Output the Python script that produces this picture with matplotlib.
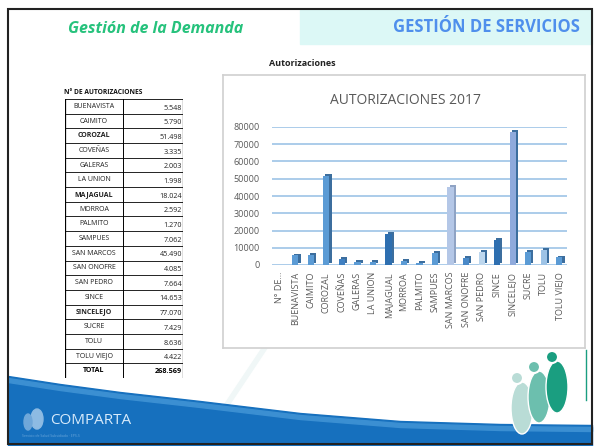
import numpy as np
import matplotlib
matplotlib.use("Agg")
import matplotlib.pyplot as plt
import matplotlib.transforms as mtransforms
from matplotlib.patches import Rectangle, Circle, Ellipse

# Data
municipios = ["BUENAVISTA", "CAIMITO", "COROZAL", "COVEÑAS", "GALERAS", "LA UNION",
              "MAJAGUAL", "MORROA", "PALMITO", "SAMPUES", "SAN MARCOS", "SAN ONOFRE",
              "SAN PEDRO", "SINCE", "SINCELEJO", "SUCRE", "TOLU", "TOLU VIEJO"]
autorizaciones = [5548, 5790, 51498, 3335, 2003, 1998, 18024, 2592, 1270, 7062,
                  45490, 4085, 7664, 14653, 77070, 7429, 8636, 4422]
tabla_valores = ["5.548", "5.790", "51.498", "3.335", "2.003", "1.998", "18.024", "2.592",
                 "1.270", "7.062", "45.490", "4.085", "7.664", "14.653", "77.070", "7.429",
                 "8.636", "4.422"]
tabla_nombres = ["BUENAVISTA", "CAIMITO", "COROZAL", "COVEÑAS", "GALERAS", "LA UNION",
                 "MAJAGUAL", "MORROA", "PALMITO", "SAMPUES", "SAN MARCOS", "SAN ONOFRE",
                 "SAN PEDRO", "SINCE", "SINCELEJO", "SUCRE", "TOLU", "TOLU VIEJO"]
total_label = "268.569"
negrita = {"COROZAL", "MAJAGUAL", "SINCELEJO"}

# chart categories (first one is the header row of the source table)
categorias = ["N° DE..."] + municipios
valores = [0] + autorizaciones
y_ticks = [0, 10000, 20000, 30000, 40000, 50000, 60000, 70000, 80000]

med, dark, light = "#5b9bd5", "#2e6fb0", "#b4c7e7"
colores = ["#5b9bd5", med, med, med, "#3f80c2", med, med, dark, med, med, med,
           light, "#4a89c8", "#bdd7ee", dark, "#8faadc", med, "#9dc3e6", med]

W, H = 596, 446
plt.rcParams['font.family'] = ['Open Sans', 'DejaVu Sans']


def rect(x0, y0, x1, y1):
    return [x0 / W, 1 - y1 / H, (x1 - x0) / W, (y1 - y0) / H]


fig = plt.figure(figsize=(W / 100, H / 100), dpi=100)
fig.patch.set_facecolor("white")

# background / slide decoration in pixel coordinates
bg = fig.add_axes([0, 0, 1, 1])
bg.set_xlim(0, W)
bg.set_ylim(H, 0)
bg.axis("off")

bg.plot([200, 330], [445, 250], color="#f0f7f7", lw=4, zorder=0)

# bottom blue wave
wx = np.array([8, 60, 120, 200, 300, 400, 500, 592])
wy = np.array([376, 384, 392, 401, 413, 421, 424, 425])
bg.fill_between(wx, wy, 446, color="#1670be", zorder=1)
bg.fill_between(wx, wy + 2, wy + 6, color="#3b8fd2", zorder=1)

# people icon (right)
for cx, cy, c in [(517, 378, "#b9dcd6"), (534, 367, "#6cbfae"), (552, 357, "#1a9e80")]:
    bg.add_patch(Ellipse((cx + 5, cy + 30), 22, 52, facecolor=c, edgecolor="white",
                         lw=1, zorder=2))
    bg.add_patch(Circle((cx, cy), 6, facecolor=c, edgecolor="white", lw=1.5, zorder=3))
bg.plot([586, 586], [350, 400], color="#1a9e80", lw=1, zorder=2)

# logo
bg.text(50, 421, "COMPARTA", color="#d6eafb", fontsize=11, ha="left", va="center", zorder=4)
bg.add_patch(Ellipse((37, 419), 12, 20, color="#8dbbe3", zorder=4))
bg.add_patch(Ellipse((28, 422), 8, 16, color="#6fa7d9", zorder=4))
bg.text(22, 436, "Servicio de Salud Subsidiado · EPS-S", color="#6aa6da", fontsize=2.5,
        va="center", ha="left", zorder=4)

# header
bg.add_patch(Rectangle((300, 10), 292, 34, color="#dcf8f6", zorder=1))
bg.text(156, 29, "Gestión de la Demanda", color="#26c27c", fontsize=11.5,
        fontweight="bold", fontstyle="italic", ha="center", va="center", zorder=4)
bg.text(486, 27, "GESTIÓN DE SERVICIOS", color="#4f8fec", fontsize=12,
        fontweight="bold", ha="center", va="center", zorder=4)
bg.text(302, 64, "Autorizaciones", color="#222222", fontsize=6.5, fontweight="bold",
        ha="center", va="center", zorder=4)

# slide frame
bg.add_patch(Rectangle((8, 9), 584, 435, fill=False, edgecolor="#222222", lw=1.5, zorder=5))

# table
tb = fig.add_axes(rect(65, 99, 183, 378))
n = len(tabla_nombres) + 1
tb.set_xlim(0, 118)
tb.set_ylim(n, 0)
tb.axis("off")
tb.add_patch(Rectangle((0, 0), 118, n, facecolor="white", edgecolor="none", zorder=0))
for i in range(n + 1):
    tb.plot([0, 118], [i, i], color="black", lw=0.6)
tb.plot([0, 0], [0, n], color="black", lw=0.9)
tb.plot([58, 58], [0, n], color="black", lw=0.7)
tb.plot([118, 118], [0, n], color="black", lw=0.9)
for i, (nom, val) in enumerate(zip(tabla_nombres, tabla_valores)):
    w = "bold" if nom in negrita else "normal"
    tb.text(29, i + 0.5, nom, fontsize=5, ha="center", va="center", fontweight=w,
            color="#222222")
    tb.text(117, i + 0.62, val, fontsize=5.2, ha="right", va="center", color="#222222")
tb.text(29, n - 0.5, "TOTAL", fontsize=5, ha="center", va="center", fontweight="bold")
tb.text(117, n - 0.45, total_label, fontsize=5.2, ha="right", va="center", fontweight="bold")
bg.text(64, 93, "N° DE AUTORIZACIONES", fontsize=4.8, fontweight="bold", ha="left",
        va="center", color="#111111", zorder=4)

# chart box
box = fig.add_axes(rect(223, 75, 585, 348))
box.set_xticks([])
box.set_yticks([])
for s in box.spines.values():
    s.set_edgecolor("#d0d0d0")
    s.set_linewidth(1.2)
box.text(0.505, 0.905, "AUTORIZACIONES 2017", transform=box.transAxes, fontsize=10,
         color="#595959", ha="center", va="center")

ax = fig.add_axes(rect(272, 127, 567, 265))
ax.patch.set_alpha(0)
x = np.arange(len(categorias))
shadow = mtransforms.offset_copy(ax.transData, fig=fig, x=2.2, y=1.8, units="dots")
side = ["#3c6e9e" if c != light else "#8fa3c4" for c in colores]
ax.bar(x, valores, width=0.4, color=side, transform=shadow, zorder=2)
ax.bar(x, valores, width=0.4, color=colores, zorder=3)
ax.set_xlim(-0.5, len(categorias) - 0.5)
ax.set_ylim(0, 80000)
ax.set_yticks(y_ticks)
ax.set_yticklabels([str(v) for v in y_ticks])
ax.set_xticks(x)
ax.set_xticklabels(categorias, rotation=90)
ax.tick_params(axis="both", length=0, labelsize=6.5, labelcolor="#595959")
ax.tick_params(axis="y", pad=9)
ax.tick_params(axis="x", pad=5)
ax.grid(axis="y", color="#9dc3e6", lw=1.2, zorder=0)
ax.set_axisbelow(True)
for s in ax.spines.values():
    s.set_visible(False)

fig.savefig("out.png", dpi=100)
